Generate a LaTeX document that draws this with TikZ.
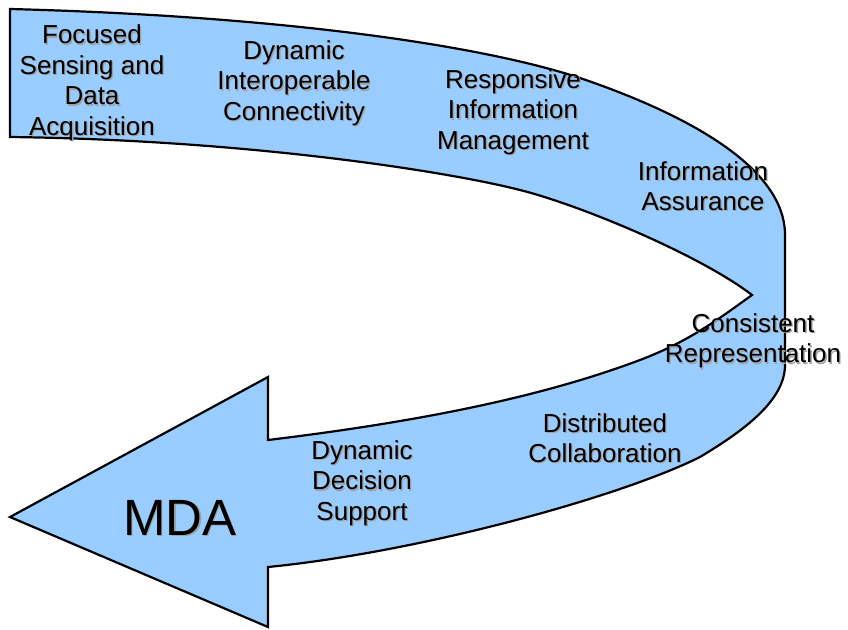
\documentclass[tikz,border=0pt]{standalone}
\usepackage{fontspec}
\setmainfont{Liberation Sans}
\definecolor{arrowblue}{HTML}{99CCFF}
\definecolor{shadowgray}{HTML}{A0A0A0}
\newcommand{\shadowlabel}[4][\labelfont]{%
  \node[lbl,text=shadowgray,font=#1] (#2-sh) at ($(#3)+(1.3,1.3)$) {#4};
  \node[lbl,font=#1] (#2) at (#3) {#4};}
\newcommand{\labelfont}{\fontsize{26}{30.5}\selectfont}
\newcommand{\bigfont}{\fontsize{51}{56}\selectfont}
\usetikzlibrary{calc}
\begin{document}
\begin{tikzpicture}[x=1pt,y=-1pt,
  lbl/.style={align=center,inner sep=0pt,text=black},
  bandarrow/.style={fill=arrowblue,draw=black,line width=2.2pt,line join=miter}]
\useasboundingbox (0,0) rectangle (848,629);
\path[bandarrow]
  (10,9) .. controls (280,16) and (480,45) .. (580,78)
         .. controls (680,112) and (785,165) .. (785,235)
  -- (785,365)
         .. controls (785,400) and (745,430) .. (700,457)
         .. controls (620,497) and (420,552) .. (268,567)
  -- (268,627) -- (10,517) -- (268,377) -- (268,440)
         .. controls (450,418) and (560,390) .. (640,360)
         .. controls (690,341) and (720,318) .. (752,295)
         .. controls (700,255) and (580,205) .. (520,190)
         .. controls (450,172) and (250,140) .. (10,137)
  -- cycle;
\shadowlabel{focused}{92,83}{Focused\\Sensing and\\Data\\Acquisition}
\shadowlabel{interop}{294,83}{Dynamic\\Interoperable\\Connectivity}
\shadowlabel{respons}{513,112}{Responsive\\Information\\Management}
\shadowlabel{assur}{703,186}{Information\\Assurance}
\shadowlabel{consist}{753,341}{Consistent\\Representation}
\shadowlabel{collab}{605,438}{Distributed\\Collaboration}
\shadowlabel{decision}{362,483}{Dynamic\\Decision\\Support}
\shadowlabel[\bigfont]{mda}{180,518}{MDA}
\end{tikzpicture}
\end{document}
